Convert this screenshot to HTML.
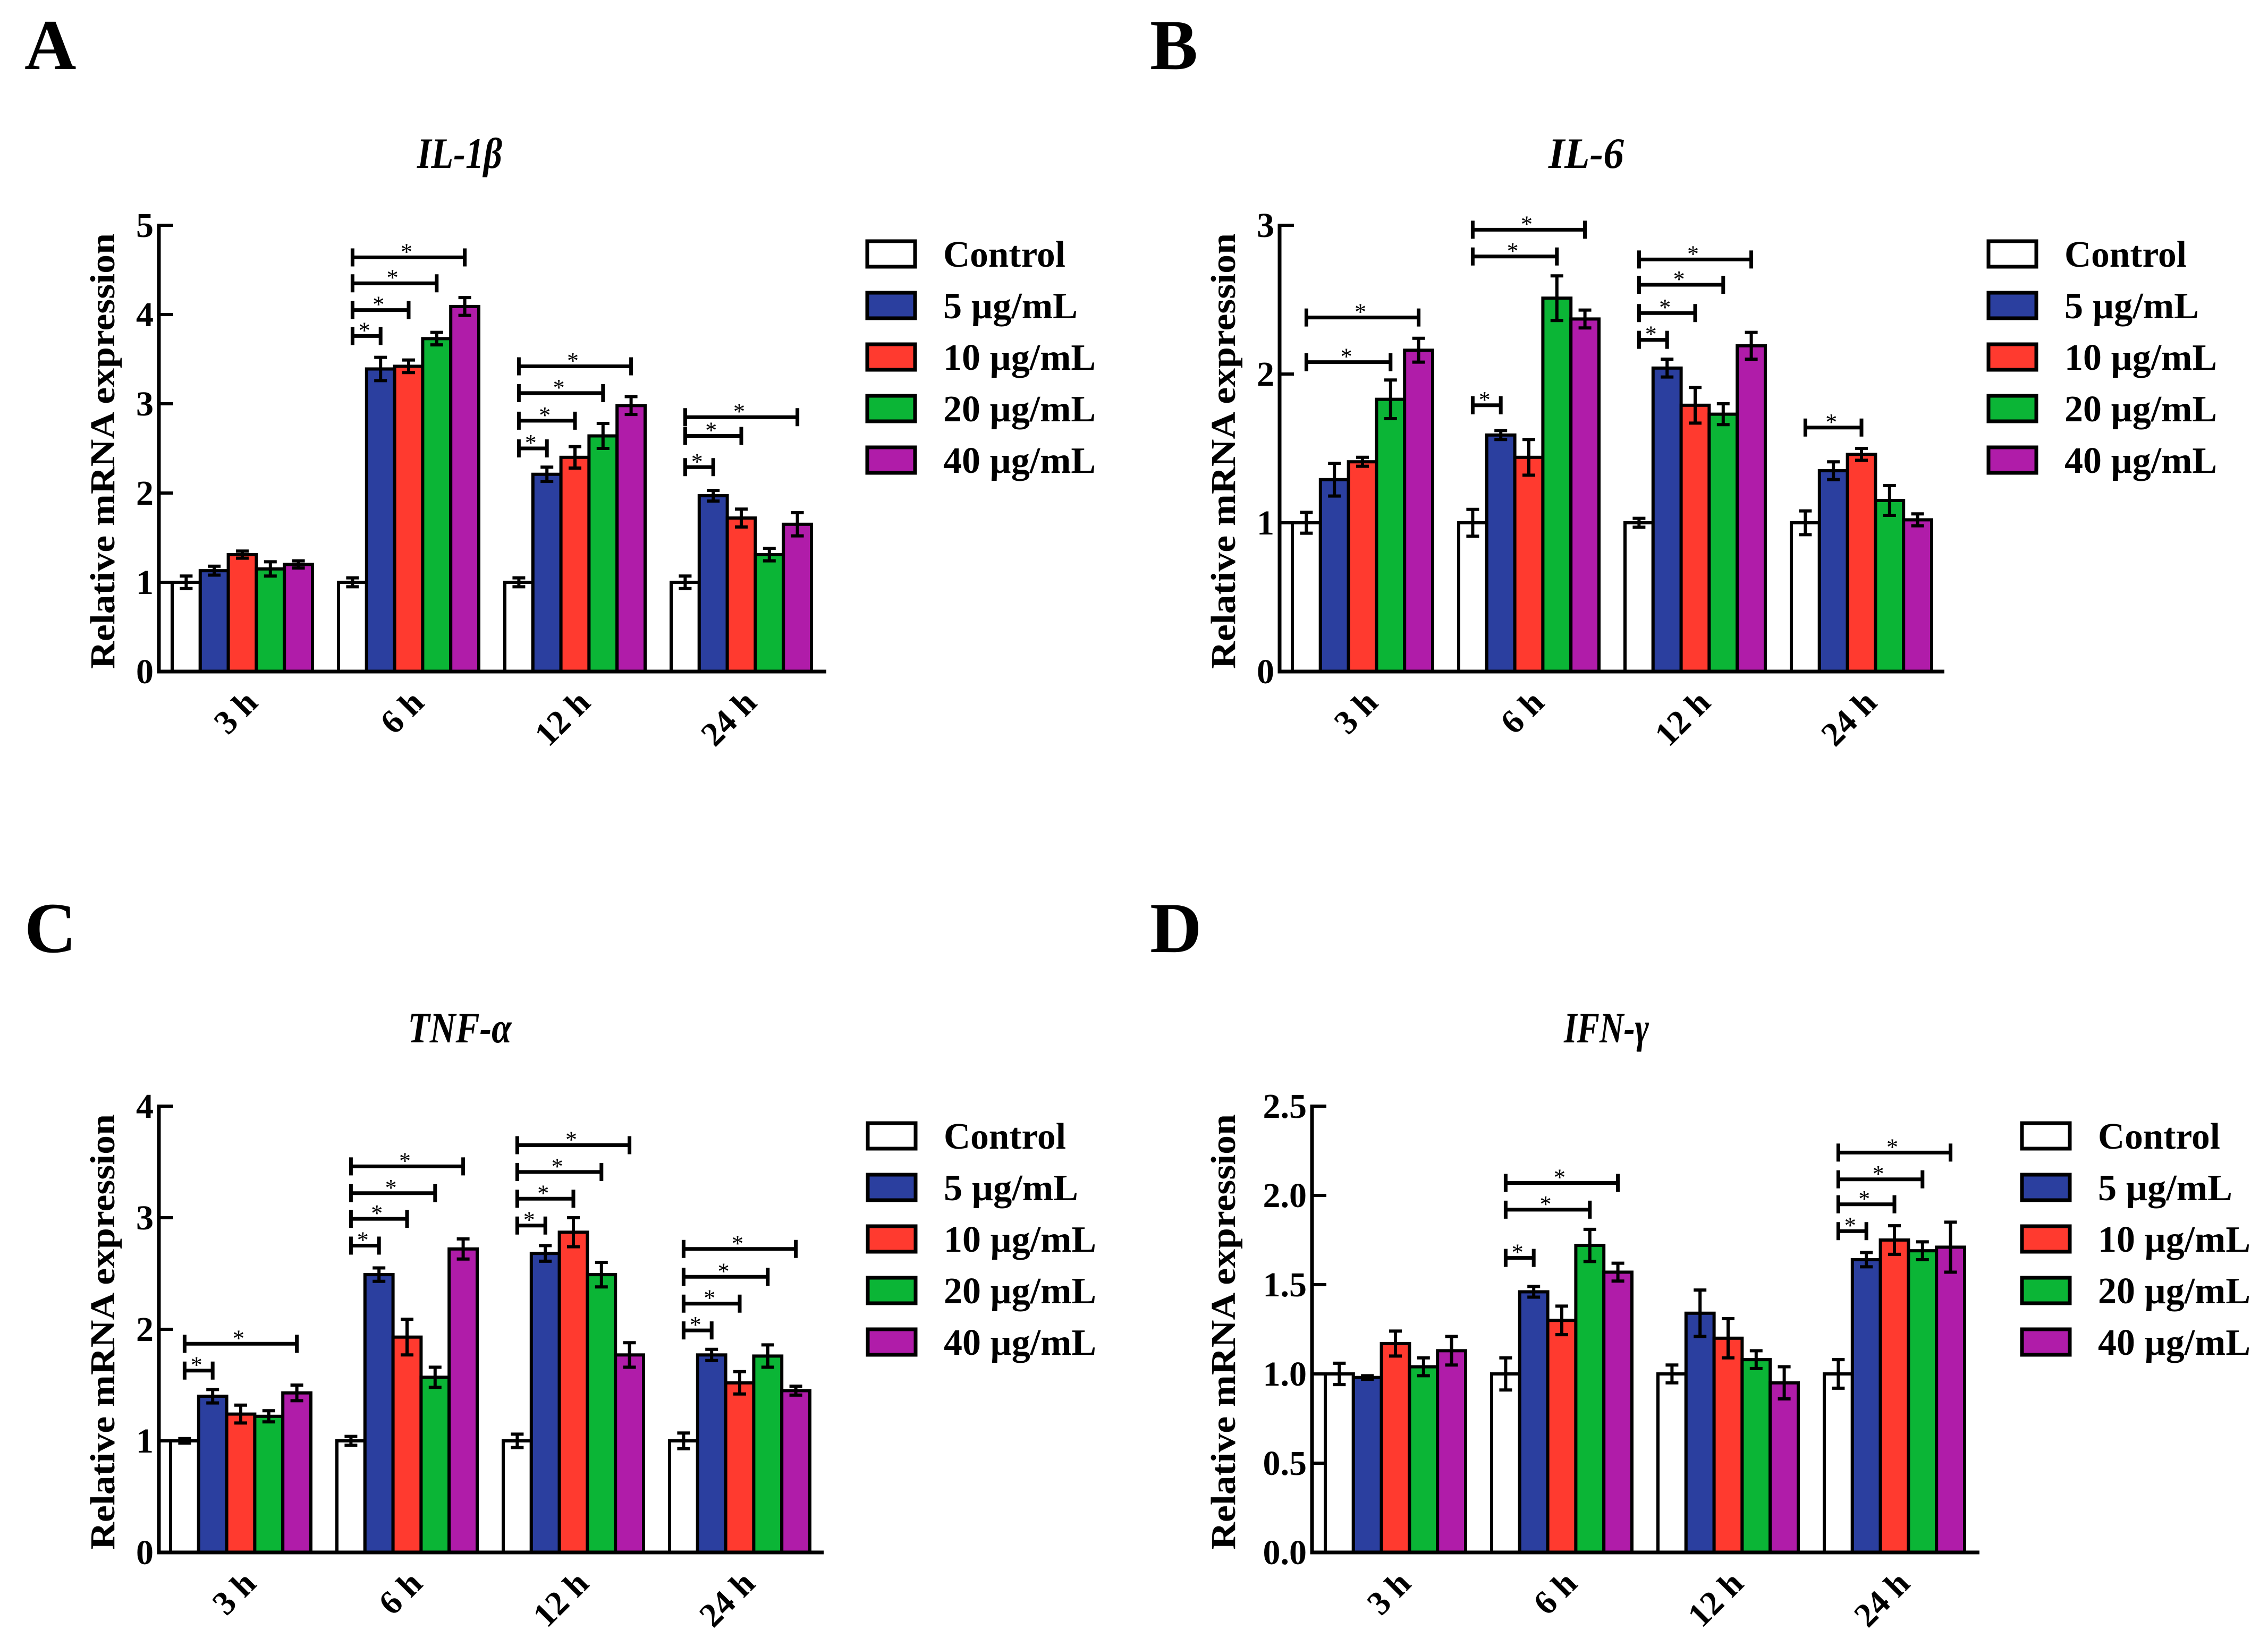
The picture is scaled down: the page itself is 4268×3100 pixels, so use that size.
<!DOCTYPE html>
<html><head><meta charset="utf-8"><style>
html,body{margin:0;padding:0;background:#fff;}
svg{display:block;font-family:"Liberation Serif",serif;}
</style></head><body>
<svg id="fig" xmlns="http://www.w3.org/2000/svg" width="4268" height="3100" viewBox="0 0 4268 3100"></svg>
<script>
const groups = ["3 h","6 h","12 h","24 h"];
const seriesNames = ["Control","5 µg/mL","10 µg/mL","20 µg/mL","40 µg/mL"];
const colors = ["#ffffff","#2b3f9f","#ff3a2f","#0bb536","#b01ca9"];

// IL-1β
const aVals = [[1.0,1.13,1.31,1.15,1.2],[1.0,3.39,3.42,3.73,4.09],[1.0,2.21,2.4,2.64,2.98],[1.0,1.97,1.72,1.31,1.65]];
const aErrs = [[0.07,0.05,0.04,0.08,0.04],[0.05,0.13,0.07,0.07,0.1],[0.05,0.08,0.12,0.14,0.1],[0.07,0.06,0.1,0.07,0.13]];
const aSig = [[1,1,3.76],[1,2,4.05],[1,3,4.35],[1,4,4.64],[2,1,2.5],[2,2,2.81],[2,3,3.12],[2,4,3.42],[3,1,2.29],[3,2,2.64],[3,4,2.85]];
const aTicks = [0,1,2,3,4,5];
// IL-6
const bVals = [[1.0,1.29,1.41,1.83,2.16],[1.0,1.59,1.44,2.51,2.37],[1.0,2.04,1.79,1.73,2.19],[1.0,1.35,1.46,1.15,1.02]];
const bErrs = [[0.07,0.11,0.03,0.13,0.08],[0.09,0.03,0.12,0.15,0.06],[0.03,0.06,0.12,0.07,0.09],[0.08,0.06,0.04,0.1,0.04]];
const bSig = [[0,3,2.08],[0,4,2.38],[1,1,1.79],[1,3,2.79],[1,4,2.97],[2,1,2.23],[2,2,2.41],[2,3,2.6],[2,4,2.77],[3,2,1.64]];
const bTicks = [0,1,2,3];
// TNF-α
const cVals = [[1.0,1.4,1.24,1.22,1.43],[1.0,2.49,1.93,1.57,2.72],[1.0,2.68,2.87,2.49,1.77],[1.0,1.77,1.52,1.76,1.45]];
const cErrs = [[0.02,0.06,0.08,0.05,0.07],[0.04,0.06,0.16,0.09,0.09],[0.06,0.07,0.13,0.11,0.11],[0.07,0.05,0.1,0.1,0.04]];
const cSig = [[0,1,1.63],[0,4,1.87],[1,1,2.75],[1,2,2.99],[1,3,3.22],[1,4,3.46],[2,1,2.93],[2,2,3.17],[2,3,3.41],[2,4,3.65],[3,1,1.99],[3,2,2.23],[3,3,2.47],[3,4,2.72]];
const cTicks = [0,1,2,3,4];
// IFN-γ
const dVals = [[1.0,0.98,1.17,1.04,1.13],[1.0,1.46,1.3,1.72,1.57],[1.0,1.34,1.2,1.08,0.95],[1.0,1.64,1.75,1.69,1.71]];
const dErrs = [[0.06,0.01,0.07,0.05,0.08],[0.09,0.03,0.08,0.09,0.05],[0.05,0.13,0.11,0.05,0.09],[0.08,0.04,0.08,0.05,0.14]];
const dSig = [[1,1,1.65],[1,3,1.92],[1,4,2.07],[3,1,1.80],[3,2,1.95],[3,3,2.09],[3,4,2.24]];
const dTicks = [0,0.5,1.0,1.5,2.0,2.5];

const NS = "http://www.w3.org/2000/svg";
const svg = document.getElementById('fig');
function mk(tag, attrs, parent){const e=document.createElementNS(NS,tag);for(const k in attrs)e.setAttribute(k,attrs[k]);(parent||svg).appendChild(e);return e;}

function panel(cfg){
  const g = mk('g',{});
  
  
  const yMax = cfg.ticks[cfg.ticks.length-1];
  const Y = v => cfg.y0 - (v/yMax)*(cfg.y0-cfg.yTop);
  const bw = 52.8, gs = 313;
  const X = (gi,si) => cfg.g0 + gi*gs + si*bw;
  const L = mk('text',{x:cfg.lx,y:cfg.ly,'font-size':135,'font-weight':'bold'},g);
  L.textContent = cfg.letter;
  
  
  const T = mk('text',{x:cfg.tx,y:cfg.ty,'font-size':82,'font-weight':'bold','font-style':'italic','text-anchor':'middle',textLength:cfg.tl,lengthAdjust:'spacingAndGlyphs'},g);
  T.textContent = cfg.title;
  
  
  const yc = (cfg.y0+cfg.yTop)/2+5;
  const YL = mk('text',{x:0,y:0,'font-size':66,'font-weight':'bold','text-anchor':'middle',textLength:820,lengthAdjust:'spacingAndGlyphs',transform:`translate(${cfg.ylx},${yc}) rotate(-90)`},g);
  YL.textContent = 'Relative mRNA expression';
  
  
  for(let gi=0;gi<4;gi++){
    for(let si=0;si<5;si++){
      const v = cfg.vals[gi][si], e = cfg.errs[gi][si];
      const x = X(gi,si);
      const r = mk('rect',{x:x,y:Y(v),width:bw,height:cfg.y0-Y(v),fill:colors[si],stroke:'#000','stroke-width':6},g);
      
      
      const cx = x+bw/2;
      const eb = mk('path',{d:`M${cx},${Y(v+e)}V${Y(v-e)}M${cx-12},${Y(v+e)}H${cx+12}M${cx-12},${Y(v-e)}H${cx+12}`,stroke:'#000','stroke-width':6,fill:'none'},g);
      
      
    }
    const gc = X(gi,0)+2.5*bw;
    const xl = mk('text',{x:0,y:0,'font-size':64,'font-weight':'bold','text-anchor':'end',transform:`translate(${gc+32},${cfg.y0+62}) rotate(-45)`},g);
    xl.textContent = groups[gi];
    
    
  }
  cfg.sig.forEach(s=>{
    const x1 = X(s[0],0)+bw/2, x2 = X(s[0],s[1])+bw/2, y = Y(s[2]);
    const b = mk('path',{d:`M${x1},${y-17}V${y+17}M${x1},${y}H${x2}M${x2},${y-17}V${y+17}`,stroke:'#000','stroke-width':7,fill:'none'},g);
    
    
    const a = mk('text',{x:(x1+x2)/2-4,y:y+4,'font-size':44,'text-anchor':'middle'},g);
    a.textContent = '*';
    
    
  });
  const ax = mk('path',{d:`M${cfg.ax},${cfg.yTop-3}V${cfg.y0}H${cfg.xEnd}`,stroke:'#000','stroke-width':7,fill:'none'},g);
  
  
  cfg.ticks.forEach(t=>{
    const y = Y(t);
    mk('path',{d:`M${cfg.ax},${y}H${cfg.ax+27}`,stroke:'#000','stroke-width':6},g);
    const tl = mk('text',{x:cfg.ax-10,y:y+22,'font-size':66,'font-weight':'bold','text-anchor':'end'},g);
    tl.textContent = cfg.dec ? t.toFixed(1) : String(t);
    
    
  });
  const lens = [230,253,287,287,287];
  seriesNames.forEach((n,i)=>{
    const cy = cfg.legY + i*97;
    const lr = mk('rect',{x:cfg.legX,y:cy-24,width:90,height:48,fill:colors[i],stroke:'#000','stroke-width':7},g);
    
    
    const lt = mk('text',{x:cfg.legX+143,y:cy+24,'font-size':70,'font-weight':'bold',textLength:lens[i],lengthAdjust:'spacingAndGlyphs'},g);
    lt.textContent = n;
    
    
  });
}

panel({letter:'A',lx:46,ly:130,title:'IL-1β',tl:160,tx:865,ty:316,ylx:215,ax:299,y0:1264,yTop:424,xEnd:1555,g0:324,
  vals:aVals,errs:aErrs,sig:aSig,ticks:aTicks,legX:1632,legY:478});
panel({letter:'B',lx:2164,ly:130,title:'IL-6',tl:142,tx:2985,ty:316,ylx:2324,ax:2408,y0:1264,yTop:424,xEnd:3659,g0:2432,
  vals:bVals,errs:bErrs,sig:bSig,ticks:bTicks,legX:3742,legY:478});
panel({letter:'C',lx:46,ly:1792,title:'TNF-α',tl:195,tx:865,ty:1962,ylx:215,ax:299,y0:2922,yTop:2082,xEnd:1550,g0:321,
  vals:cVals,errs:cErrs,sig:cSig,ticks:cTicks,legX:1633,legY:2138});
panel({letter:'D',lx:2164,ly:1792,title:'IFN-γ',tl:160,tx:3023,ty:1962,ylx:2324,ax:2469,y0:2922,yTop:2082,xEnd:3725,g0:2494,
  vals:dVals,errs:dErrs,sig:dSig,ticks:dTicks,legX:3805,legY:2138,dec:true});
</script>
</body></html>
